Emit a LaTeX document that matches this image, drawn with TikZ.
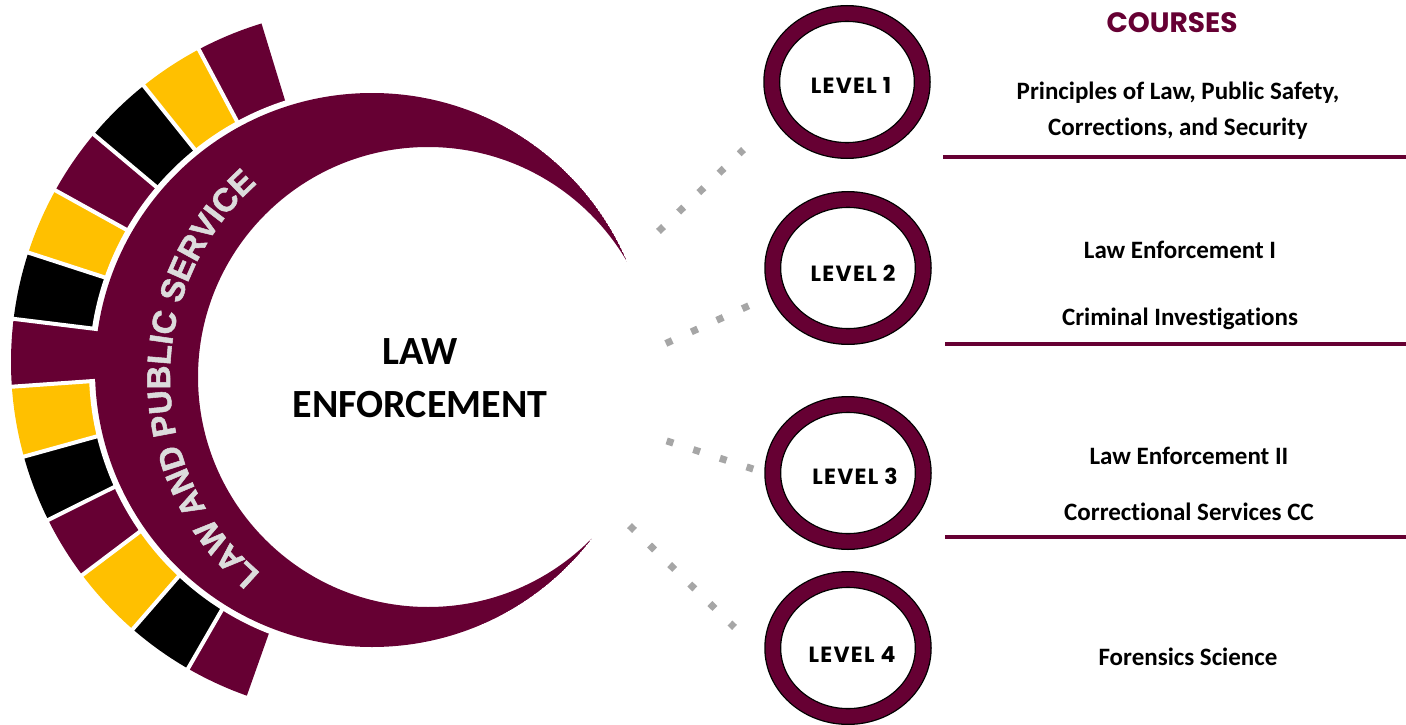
\documentclass[tikz,border=0pt]{standalone}
\usepackage{fontspec}
\setmainfont{Carlito}[Ligatures={NoCommon,NoRare,NoDiscretionary}]
\newfontfamily\popfont{Poppins}
\newfontfamily\poplvl{Poppins}[LetterSpace=6]
\newfontfamily\arialfont{Liberation Sans}[BoldFeatures={FakeBold=1.6}]
\usetikzlibrary{shapes.geometric,decorations.text,calc}
\definecolor{lpsmaroon}{HTML}{660033}
\definecolor{lpsgold}{HTML}{FFC000}
\definecolor{dotgray}{HTML}{A6A6A6}
\definecolor{bandtext}{HTML}{DCDCDC}
\newcommand\lpsband{\arialfont\bfseries\fontsize{33}{33}\selectfont}
\begin{document}
\begin{tikzpicture}[x=1pt,y=1pt,
  lvl/.style={ellipse, draw=black, line width=1.3pt, double=lpsmaroon,
    double distance=14.4pt, fill=white, minimum width=150.5pt,
    minimum height=137pt, inner sep=0pt},
  lvltext/.style={font=\poplvl\bfseries\fontsize{22}{22}\selectfont, anchor=base, inner sep=0pt},
  course/.style={font=\bfseries\fontsize{25}{30}\selectfont, anchor=base, inner sep=0pt},
  dots/.style={dotgray, line width=7pt, dash pattern=on 7pt off 21pt,
    shorten <=-3.5pt, shorten >=-3.5pt},
  rule/.style={lpsmaroon, line width=3.5pt}]
\useasboundingbox (0,0) rectangle (1406,-725);
\fill[white] (0,0) rectangle (1406,-725);

\coordinate (RC) at (365,-362);
\coordinate (C1) at (372,-370);
\coordinate (C2) at (428,-377);

% segmented outer ring
\foreach \a/\b/\c in {107/118/lpsmaroon, 118/128.7/lpsgold, 128.7/140/black,
  140/151/lpsmaroon, 151/162/lpsgold, 162/173/black, 173/184/lpsmaroon,
  184/195.5/lpsgold, 195.5/206.5/black, 206.5/217/lpsmaroon, 217/229/lpsgold,
  229/240/black, 240/250.5/lpsmaroon}
  \fill[\c] (RC) -- ($(RC)+(\a:354)$) arc[start angle=\a, end angle=\b, radius=354] -- cycle;
\fill[white] (C1) circle (283);
\fill[lpsmaroon] ($(RC)+(173:250)$) arc[start angle=173, end angle=184, radius=250]
  -- ($(RC)+(184:300)$) arc[start angle=184, end angle=173, radius=300] -- cycle;
\foreach \a in {118,128.7,140,151,162,173,184,195.5,206.5,217,229,240}
  \draw[white, line width=4pt] ($(RC)+(\a:268)$) -- ($(RC)+(\a:358)$);

% crescent
\begin{scope}
  \clip (0,0) -- (660,0) -- (568,-725) -- (0,-725) -- cycle;
  \clip (C1) circle (277);
  \fill[lpsmaroon, even odd rule] (C1) circle (277) (C2) circle (230);
\end{scope}

% curved band text
\path[decorate, decoration={text along path, text align=center,
  text={|\lpsband\color{bandtext}|LAW AND PUBLIC SERVICE}}]
  ($(C2)+(232:258)$) arc[start angle=232, end angle=129, radius=258];

% centre title
\node[font=\bfseries\fontsize{40}{40}\selectfont, anchor=base, inner sep=0pt] (law) at (420,-364) {LAW};
\node[font=\bfseries\fontsize{40}{40}\selectfont, anchor=base, inner sep=0pt] (enf) at (420,-417) {ENFORCEMENT};

% levels
\node[lvl] (L1) at (847,-82) {};
\node[lvl] (L2) at (848,-268) {};
\node[lvl] (L3) at (848,-473) {};
\node[lvl] (L4) at (848,-648) {};
\node[lvltext] (t1) at (851,-93) {LEVEL 1};
\node[lvltext] (t2) at (853,-281) {LEVEL 2};
\node[lvltext] (t3) at (855,-484) {LEVEL 3};
\node[lvltext] (t4) at (852,-662) {LEVEL 4};

% dotted connectors
\coordinate (d1a) at (661,-229); \coordinate (d1b) at (741,-152);
\coordinate (d2a) at (669,-342); \coordinate (d2b) at (746,-307);
\coordinate (d3a) at (670,-442); \coordinate (d3b) at (750,-468);
\coordinate (d4a) at (632,-528); \coordinate (d4b) at (732,-625);
\draw[dots] (d1a) -- (d1b);
\draw[dots] (d2a) -- (d2b);
\draw[dots] (d3a) -- (d3b);
\draw[dots] (d4a) -- (d4b);

% courses
\node[font=\popfont\bfseries\fontsize{28}{28}\selectfont, text=lpsmaroon, anchor=base, inner sep=0pt] (hd) at (1172,-33) {COURSES};
\node[course] (c1a) at (1178,-99.3) {Principles of Law, Public Safety,};
\node[course] (c1b) at (1178,-135) {Corrections, and Security};
\node[course] (c2a) at (1180,-258) {Law Enforcement I};
\node[course] (c2b) at (1180,-325) {Criminal Investigations};
\node[course] (c3a) at (1189,-464) {Law Enforcement II};
\node[course] (c3b) at (1189,-520) {Correctional Services CC};
\node[course] (c4a) at (1188,-665) {Forensics Science};

\coordinate (r1a) at (943,-157); \coordinate (r1b) at (1406,-157);
\coordinate (r2a) at (945,-344); \coordinate (r2b) at (1406,-344);
\coordinate (r3a) at (945,-537); \coordinate (r3b) at (1406,-537);
\draw[rule] (r1a) -- (r1b);
\draw[rule] (r2a) -- (r2b);
\draw[rule] (r3a) -- (r3b);
\end{tikzpicture}
\end{document}
